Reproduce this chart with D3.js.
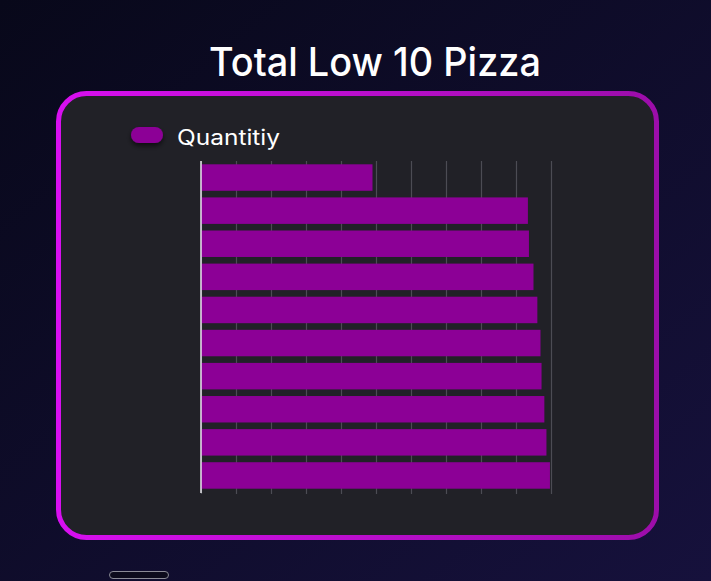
<!DOCTYPE html>
<html>
<head>
<meta charset="utf-8">
<script src="https://cdn.jsdelivr.net/npm/d3@7"></script>
<style>
  html, body { margin: 0; padding: 0; background: #0b0a1c; }
  svg { display: block; }
</style>
</head>
<body>
<svg id="chart" width="711" height="581"></svg>
<script>
const title = "Total Low 10 Pizza";
const seriesName = "Quantitiy";
const categories = [
  "The Brie Carre Pizza",
  "The Mediterranean Pizza",
  "The Calabrese Pizza",
  "The Spinach Supreme Pizza",
  "The Soppressata Pizza",
  "The Spinach Pesto Pizza",
  "The Chicken Pesto Pizza",
  "The Italian Vegetables Pizza",
  "The Chicken Alfredo Pizza",
  "The Green Garden Pizza"
];
const quantities = [490, 934, 937, 950, 961, 970, 973, 981, 987, 997];
const xTicks = [0, 100, 200, 300, 400, 500, 600, 700, 800, 900, 1000];

(function () {
const svg = d3.select("#chart");
const W = 711, H = 581;
const defs = svg.append("defs");

const bg = defs.append("linearGradient").attr("id", "bg")
  .attr("x1", "0%").attr("y1", "0%").attr("x2", "100%").attr("y2", "100%");
bg.append("stop").attr("offset", "0%").attr("stop-color", "#08081a");
bg.append("stop").attr("offset", "100%").attr("stop-color", "#16113c");

const border = defs.append("linearGradient").attr("id", "border")
  .attr("x1", "0%").attr("y1", "0%").attr("x2", "100%").attr("y2", "0%");
border.append("stop").attr("offset", "0%").attr("stop-color", "#d80ff0");
border.append("stop").attr("offset", "100%").attr("stop-color", "#9c0daa");

const sh = defs.append("filter").attr("id", "shadow")
  .attr("x", "-50%").attr("y", "-50%").attr("width", "200%").attr("height", "200%");
sh.append("feDropShadow").attr("dx", 0).attr("dy", 3).attr("stdDeviation", 2.5)
  .attr("flood-color", "#000").attr("flood-opacity", 0.6);

svg.append("rect").attr("width", W).attr("height", H).attr("fill", "url(#bg)");

// title
svg.append("text")
  .attr("x", 209).attr("y", 76)
  .attr("fill", "#ffffff")
  .attr("font-family", "Inter, 'Open Sans', sans-serif")
  .attr("font-size", 39)
  .attr("font-weight", 500)
  .attr("textLength", 332)
  .attr("lengthAdjust", "spacingAndGlyphs")
  .text(title);

// card
svg.append("rect")
  .attr("x", 58.5).attr("y", 93.5).attr("width", 598).attr("height", 444)
  .attr("rx", 28).attr("ry", 28)
  .attr("fill", "#212127")
  .attr("stroke", "url(#border)").attr("stroke-width", 5);

// legend
svg.append("rect")
  .attr("x", 131).attr("y", 127).attr("width", 32).attr("height", 16)
  .attr("rx", 8).attr("fill", "#8c0096").attr("filter", "url(#shadow)");
svg.append("text")
  .attr("x", 177).attr("y", 145)
  .attr("fill", "#ffffff")
  .attr("font-family", "Inter, 'Open Sans', sans-serif")
  .attr("font-size", 21)
  .attr("textLength", 103)
  .attr("lengthAdjust", "spacingAndGlyphs")
  .text(seriesName);

// chart area
const pL = 201, pR = 551, pT = 161, pB = 492;
const x = d3.scaleLinear().domain([0, 1000]).range([pL, pR]);
const y = d3.scaleBand().domain(categories).range([pT, pB])
  .paddingInner(0.2).paddingOuter(0.1);

// grid lines
const grid = svg.append("g")
  .attr("transform", `translate(0,${pB})`)
  .call(d3.axisBottom(x).tickValues(xTicks).tickSizeOuter(0).tickFormat(""));
grid.select(".domain").remove();
grid.selectAll(".tick line").attr("stroke", "#4c4c54").attr("stroke-width", 1.2)
  .attr("y1", 2).attr("y2", -(pB - pT));

// bars
svg.append("g").selectAll("rect")
  .data(categories)
  .join("rect")
  .attr("x", x(0))
  .attr("y", d => y(d))
  .attr("width", (d, i) => x(quantities[i]) - x(0))
  .attr("height", y.bandwidth())
  .attr("fill", "#8c0096");

// y axis line
const yAxis = svg.append("g")
  .attr("transform", `translate(${pL},0)`)
  .call(d3.axisLeft(y).tickSize(0).tickFormat(""));
yAxis.select(".domain").attr("stroke", "#e8e8ee").attr("stroke-width", 1.5)
  .attr("d", `M0,${pT}V${pB + 1}`);

// scrollbar-like element at bottom
svg.append("rect")
  .attr("x", 109.5).attr("y", 571.5).attr("width", 59).attr("height", 7)
  .attr("rx", 3.5).attr("fill", "#0c0b1c").attr("stroke", "#8a8a96").attr("stroke-width", 1);
})();
</script>
</body>
</html>
